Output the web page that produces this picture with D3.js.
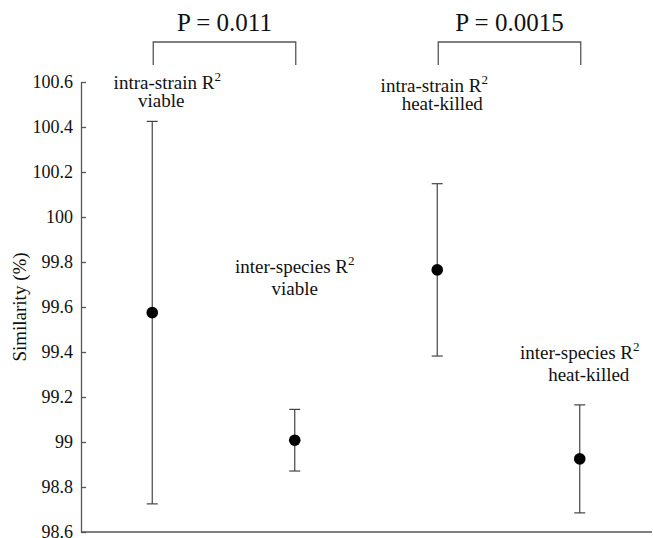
<!DOCTYPE html>
<html lang="en">
<head>
    <meta charset="UTF-8">
    <title>Similarity</title>
    <script src="https://cdnjs.cloudflare.com/ajax/libs/d3/7.9.0/d3.min.js"></script>
    <style>
        body { margin: 0; background: white; }
    </style>
</head>
<body>
    <svg width="653" height="538"></svg>
    <script>
        // data
        const groups = [1, 2, 3, 4];
        const means = [99.575, 99.008, 99.765, 98.925];
        const errors = [0.85, 0.137, 0.383, 0.24];
        const labelTop = ["intra-strain R", "inter-species R", "intra-strain R", "inter-species R"];
        const labelBottom = ["viable", "viable", "heat-killed", "heat-killed"];
        const yTicks = [98.6, 98.8, 99, 99.2, 99.4, 99.6, 99.8, 100, 100.2, 100.4, 100.6];
        const pairs = [[1, 2], [3, 4]];
        const pValues = ["P = 0.011", "P = 0.0015"];

        const serif = "'Liberation Serif', 'DejaVu Serif', serif";
        const svg = d3.select("svg");
        const x = d3.scaleLinear().domain([0.5, 4.5]).range([81, 651]);
        const y = d3.scaleLinear().domain([98.6, 100.6]).range([532, 82]);

        const axisCol = "#555";

        // y axis, ticks pointing inward
        const yAxis = svg.append("g")
            .attr("transform", "translate(81,0)")
            .call(d3.axisLeft(y).tickValues(yTicks).tickSizeInner(-5).tickSizeOuter(0)
                .tickPadding(8).tickFormat(d => d3.format("")(+d.toFixed(1))));
        yAxis.select(".domain").attr("stroke", axisCol).attr("stroke-width", 1.3);
        yAxis.selectAll(".tick line").attr("stroke", axisCol).attr("stroke-width", 1.3);
        yAxis.selectAll(".tick text").attr("font-size", 18).attr("fill", "#111");

        // bottom axis line only
        svg.append("line")
            .attr("x1", 81).attr("x2", 652)
            .attr("y1", y(98.6)).attr("y2", y(98.6))
            .attr("stroke", axisCol).attr("stroke-width", 1.3);

        svg.append("text")
            .attr("transform", `translate(26,${(y(98.6) + y(100.6)) / 2}) rotate(-90)`)
            .attr("text-anchor", "middle")
            .attr("font-size", 19)
            .text("Similarity (%)");

        // error bars
        const bars = svg.append("g").attr("stroke", "#444").attr("stroke-width", 1.2);
        groups.forEach((g, i) => {
            const cx = x(g);
            const lo = y(means[i] - errors[i]), hi = y(means[i] + errors[i]);
            bars.append("line").attr("x1", cx).attr("x2", cx).attr("y1", lo).attr("y2", hi);
            bars.append("line").attr("x1", cx - 5.5).attr("x2", cx + 5.5).attr("y1", lo).attr("y2", lo);
            bars.append("line").attr("x1", cx - 5.5).attr("x2", cx + 5.5).attr("y1", hi).attr("y2", hi);
        });

        svg.selectAll(".dot")
            .data(groups)
            .join("circle")
            .attr("class", "dot")
            .attr("cx", d => x(d))
            .attr("cy", (d, i) => y(means[i]))
            .attr("r", 5.8)
            .attr("fill", "#000");

        // group labels, placed above each bar (gap from the top cap, px)
        const labelGap = [[32, 14], [136, 114], [92, 74], [46, 24]];
        const labelShift = [[15, 9], [0, 0], [-3, 5], [0, 9]];
        groups.forEach((g, i) => {
            const top = y(means[i] + errors[i]);
            const t1 = svg.append("text")
                .attr("x", x(g) + labelShift[i][0])
                .attr("y", top - labelGap[i][0])
                .attr("text-anchor", "middle")
                .attr("font-size", 19);
            t1.append("tspan").text(labelTop[i]);
            t1.append("tspan").attr("font-size", 13).attr("dy", -8).text("2");
            svg.append("text")
                .attr("x", x(g) + labelShift[i][1])
                .attr("y", top - labelGap[i][1])
                .attr("text-anchor", "middle")
                .attr("font-size", 19)
                .text(labelBottom[i]);
        });

        // significance brackets
        const br = svg.append("g").attr("stroke", axisCol).attr("stroke-width", 1.3).attr("fill", "none");
        pairs.forEach((p, i) => {
            const x1 = x(p[0]) + 1, x2 = x(p[1]) + 1;
            br.append("path").attr("d", `M${x1},65V42H${x2}V65`);
            svg.append("text")
                .attr("x", (x1 + x2) / 2)
                .attr("y", 31)
                .attr("text-anchor", "middle")
                .attr("font-size", 25)
                .text(pValues[i]);
        });

        svg.selectAll("text").style("font-family", serif).style("fill", "#111");
    </script>
</body>
</html>
